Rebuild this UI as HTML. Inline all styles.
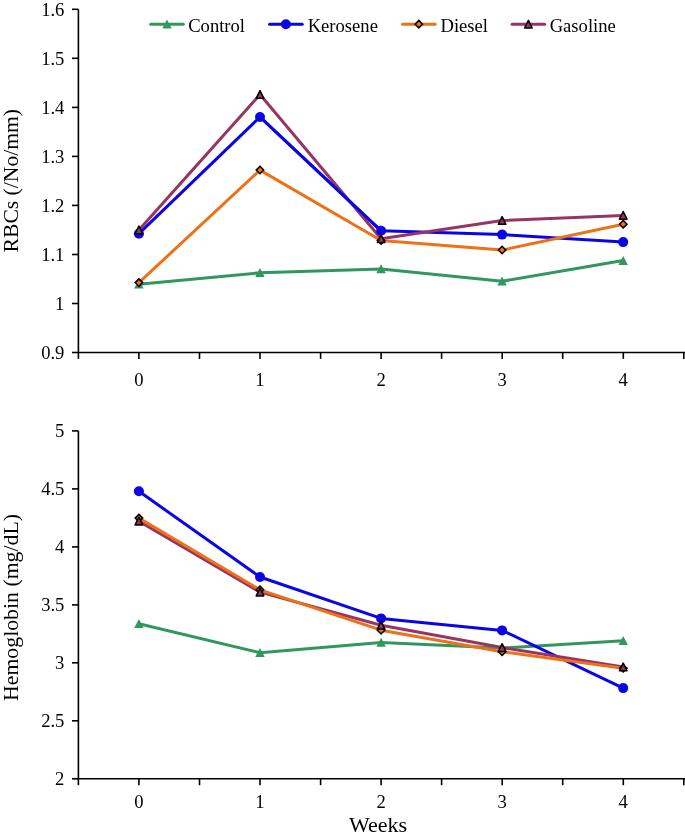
<!DOCTYPE html>
<html><head><meta charset="utf-8"><title>Chart</title>
<style>
html,body{margin:0;padding:0;background:#fff;}
svg{display:block;will-change:transform;}
text{font-family:"Liberation Serif",serif;font-size:18.6px;fill:#000;}
</style></head>
<body>
<svg width="685" height="837" viewBox="0 0 685 837">
<rect width="685" height="837" fill="#fff"/>
<g id="top">
<path d="M78.4,9.3 V352.5 H685" fill="none" stroke="#000" stroke-width="1.6"/>
<path d="M72.0,9.3 H78.4" stroke="#000" stroke-width="1.6"/>
<text x="64.4" y="15.8" text-anchor="end">1.6</text>
<path d="M72.0,58.3 H78.4" stroke="#000" stroke-width="1.6"/>
<text x="64.4" y="64.8" text-anchor="end">1.5</text>
<path d="M72.0,107.4 H78.4" stroke="#000" stroke-width="1.6"/>
<text x="64.4" y="113.9" text-anchor="end">1.4</text>
<path d="M72.0,156.4 H78.4" stroke="#000" stroke-width="1.6"/>
<text x="64.4" y="162.9" text-anchor="end">1.3</text>
<path d="M72.0,205.4 H78.4" stroke="#000" stroke-width="1.6"/>
<text x="64.4" y="211.9" text-anchor="end">1.2</text>
<path d="M72.0,254.5 H78.4" stroke="#000" stroke-width="1.6"/>
<text x="64.4" y="261.0" text-anchor="end">1.1</text>
<path d="M72.0,303.5 H78.4" stroke="#000" stroke-width="1.6"/>
<text x="64.4" y="310.0" text-anchor="end">1</text>
<path d="M72.0,352.5 H78.4" stroke="#000" stroke-width="1.6"/>
<text x="64.4" y="359.0" text-anchor="end">0.9</text>
<path d="M78.4,352.5 V358.9" stroke="#000" stroke-width="1.6"/>
<path d="M138.9,352.5 V358.9" stroke="#000" stroke-width="1.6"/>
<path d="M199.5,352.5 V358.9" stroke="#000" stroke-width="1.6"/>
<path d="M260.0,352.5 V358.9" stroke="#000" stroke-width="1.6"/>
<path d="M320.6,352.5 V358.9" stroke="#000" stroke-width="1.6"/>
<path d="M381.1,352.5 V358.9" stroke="#000" stroke-width="1.6"/>
<path d="M441.6,352.5 V358.9" stroke="#000" stroke-width="1.6"/>
<path d="M502.2,352.5 V358.9" stroke="#000" stroke-width="1.6"/>
<path d="M562.7,352.5 V358.9" stroke="#000" stroke-width="1.6"/>
<path d="M623.3,352.5 V358.9" stroke="#000" stroke-width="1.6"/>
<path d="M683.8,352.5 V358.9" stroke="#000" stroke-width="1.6"/>
<text x="138.9" y="386.3" text-anchor="middle">0</text>
<text x="260.0" y="386.3" text-anchor="middle">1</text>
<text x="381.1" y="386.3" text-anchor="middle">2</text>
<text x="502.1" y="386.3" text-anchor="middle">3</text>
<text x="623.2" y="386.3" text-anchor="middle">4</text>
<polyline points="138.9,284.3 260.0,272.8 381.1,269.0 502.1,281.2 623.2,260.6" fill="none" stroke="#30985f" stroke-width="3" stroke-linejoin="round" stroke-linecap="round"/>
<polyline points="138.9,233.7 260.0,117.0 381.1,230.8 502.1,234.6 623.2,242.1" fill="none" stroke="#0b05e6" stroke-width="3" stroke-linejoin="round" stroke-linecap="round"/>
<polyline points="138.9,229.9 260.0,94.5 381.1,238.8 502.1,220.5 623.2,215.4" fill="none" stroke="#973562" stroke-width="3" stroke-linejoin="round" stroke-linecap="round"/>
<polyline points="138.9,282.6 260.0,170.1 381.1,240.5 502.1,250.1 623.2,224.2" fill="none" stroke="#ee7118" stroke-width="3" stroke-linejoin="round" stroke-linecap="round"/>
<path d="M260.0,117.0 L381.1,230.8" fill="none" stroke="#0b05e6" stroke-width="3" stroke-linecap="round"/>
<path d="M138.9,279.6 L143.6,288.6 L134.2,288.6 Z" fill="#30985f"/>
<path d="M260.0,268.1 L264.7,277.1 L255.3,277.1 Z" fill="#30985f"/>
<path d="M381.1,264.3 L385.8,273.3 L376.4,273.3 Z" fill="#30985f"/>
<path d="M502.1,276.5 L506.8,285.5 L497.4,285.5 Z" fill="#30985f"/>
<path d="M623.2,255.9 L627.9,264.9 L618.5,264.9 Z" fill="#30985f"/>
<circle cx="138.9" cy="233.7" r="5" fill="#0b05e6"/>
<circle cx="260.0" cy="117.0" r="5" fill="#0b05e6"/>
<circle cx="381.1" cy="230.8" r="5" fill="#0b05e6"/>
<circle cx="502.1" cy="234.6" r="5" fill="#0b05e6"/>
<circle cx="623.2" cy="242.1" r="5" fill="#0b05e6"/>
<path d="M138.9,278.9 L142.7,282.6 L138.9,286.4 L135.2,282.6 Z" fill="#ee7118" stroke="#000" stroke-width="1.5"/>
<path d="M260.0,166.3 L263.7,170.1 L260.0,173.8 L256.2,170.1 Z" fill="#ee7118" stroke="#000" stroke-width="1.5"/>
<path d="M381.1,236.8 L384.8,240.5 L381.1,244.2 L377.3,240.5 Z" fill="#ee7118" stroke="#000" stroke-width="1.5"/>
<path d="M502.1,246.3 L505.9,250.1 L502.1,253.8 L498.4,250.1 Z" fill="#ee7118" stroke="#000" stroke-width="1.5"/>
<path d="M623.2,220.4 L627.0,224.2 L623.2,227.9 L619.5,224.2 Z" fill="#ee7118" stroke="#000" stroke-width="1.5"/>
<path d="M138.9,226.0 L142.7,233.7 L135.1,233.7 Z" fill="#973562" stroke="#000" stroke-width="1.5" stroke-linejoin="round"/>
<path d="M260.0,90.6 L263.8,98.3 L256.2,98.3 Z" fill="#973562" stroke="#000" stroke-width="1.5" stroke-linejoin="round"/>
<path d="M381.1,234.9 L384.9,242.6 L377.3,242.6 Z" fill="#973562" stroke="#000" stroke-width="1.5" stroke-linejoin="round"/>
<path d="M502.1,216.6 L505.9,224.3 L498.3,224.3 Z" fill="#973562" stroke="#000" stroke-width="1.5" stroke-linejoin="round"/>
<path d="M623.2,211.5 L627.0,219.2 L619.4,219.2 Z" fill="#973562" stroke="#000" stroke-width="1.5" stroke-linejoin="round"/>
</g>
<g id="legend">
<path d="M150.7,24.2 H183.3" stroke="#30985f" stroke-width="3" stroke-linecap="round"/>
<path d="M167.0,19.5 L171.7,28.5 L162.3,28.5 Z" fill="#30985f"/>
<text x="188.2" y="31.7">Control</text>
<path d="M269.6,24.2 H302.2" stroke="#0b05e6" stroke-width="3" stroke-linecap="round"/>
<circle cx="285.9" cy="24.2" r="5" fill="#0b05e6"/>
<text x="307.7" y="31.7">Kerosene</text>
<path d="M402.5,24.2 H435.1" stroke="#ee7118" stroke-width="3" stroke-linecap="round"/>
<path d="M418.8,20.4 L422.6,24.2 L418.8,27.9 L415.1,24.2 Z" fill="#ee7118" stroke="#000" stroke-width="1.5"/>
<text x="440.5" y="31.7">Diesel</text>
<path d="M512.1,24.2 H544.7" stroke="#973562" stroke-width="3" stroke-linecap="round"/>
<path d="M528.4,20.3 L532.2,28.0 L524.6,28.0 Z" fill="#973562" stroke="#000" stroke-width="1.5" stroke-linejoin="round"/>
<text x="549.7" y="31.7">Gasoline</text>
</g>
<g id="bottom">
<path d="M78.4,430.9 V778.8 H685" fill="none" stroke="#000" stroke-width="1.6"/>
<path d="M72.0,430.9 H78.4" stroke="#000" stroke-width="1.6"/>
<text x="64.4" y="437.4" text-anchor="end">5</text>
<path d="M72.0,488.9 H78.4" stroke="#000" stroke-width="1.6"/>
<text x="64.4" y="495.4" text-anchor="end">4.5</text>
<path d="M72.0,546.9 H78.4" stroke="#000" stroke-width="1.6"/>
<text x="64.4" y="553.4" text-anchor="end">4</text>
<path d="M72.0,604.9 H78.4" stroke="#000" stroke-width="1.6"/>
<text x="64.4" y="611.4" text-anchor="end">3.5</text>
<path d="M72.0,662.8 H78.4" stroke="#000" stroke-width="1.6"/>
<text x="64.4" y="669.3" text-anchor="end">3</text>
<path d="M72.0,720.8 H78.4" stroke="#000" stroke-width="1.6"/>
<text x="64.4" y="727.3" text-anchor="end">2.5</text>
<path d="M72.0,778.8 H78.4" stroke="#000" stroke-width="1.6"/>
<text x="64.4" y="785.3" text-anchor="end">2</text>
<path d="M78.4,778.8 V785.2" stroke="#000" stroke-width="1.6"/>
<path d="M138.9,778.8 V785.2" stroke="#000" stroke-width="1.6"/>
<path d="M199.5,778.8 V785.2" stroke="#000" stroke-width="1.6"/>
<path d="M260.0,778.8 V785.2" stroke="#000" stroke-width="1.6"/>
<path d="M320.6,778.8 V785.2" stroke="#000" stroke-width="1.6"/>
<path d="M381.1,778.8 V785.2" stroke="#000" stroke-width="1.6"/>
<path d="M441.6,778.8 V785.2" stroke="#000" stroke-width="1.6"/>
<path d="M502.2,778.8 V785.2" stroke="#000" stroke-width="1.6"/>
<path d="M562.7,778.8 V785.2" stroke="#000" stroke-width="1.6"/>
<path d="M623.3,778.8 V785.2" stroke="#000" stroke-width="1.6"/>
<path d="M683.8,778.8 V785.2" stroke="#000" stroke-width="1.6"/>
<text x="138.9" y="807.8" text-anchor="middle">0</text>
<text x="260.0" y="807.8" text-anchor="middle">1</text>
<text x="381.1" y="807.8" text-anchor="middle">2</text>
<text x="502.1" y="807.8" text-anchor="middle">3</text>
<text x="623.2" y="807.8" text-anchor="middle">4</text>
<polyline points="138.9,623.7 260.0,652.7 381.1,642.5 502.1,648.0 623.2,640.8" fill="none" stroke="#30985f" stroke-width="3" stroke-linejoin="round" stroke-linecap="round"/>
<polyline points="138.9,491.3 260.0,577.0 381.1,618.4 502.1,630.4 623.2,688.1" fill="none" stroke="#0b05e6" stroke-width="3" stroke-linejoin="round" stroke-linecap="round"/>
<polyline points="138.9,521.1 260.0,592.1 381.1,625.3 502.1,647.6 623.2,667.0" fill="none" stroke="#973562" stroke-width="3" stroke-linejoin="round" stroke-linecap="round"/>
<polyline points="138.9,518.1 260.0,589.8 381.1,630.2 502.1,651.7 623.2,668.2" fill="none" stroke="#ee7118" stroke-width="3" stroke-linejoin="round" stroke-linecap="round"/>
<path d="M138.9,619.0 L143.6,628.0 L134.2,628.0 Z" fill="#30985f"/>
<path d="M260.0,648.0 L264.7,657.0 L255.3,657.0 Z" fill="#30985f"/>
<path d="M381.1,637.8 L385.8,646.8 L376.4,646.8 Z" fill="#30985f"/>
<path d="M502.1,643.3 L506.8,652.3 L497.4,652.3 Z" fill="#30985f"/>
<path d="M623.2,636.1 L627.9,645.1 L618.5,645.1 Z" fill="#30985f"/>
<circle cx="138.9" cy="491.3" r="5" fill="#0b05e6"/>
<circle cx="260.0" cy="577.0" r="5" fill="#0b05e6"/>
<circle cx="381.1" cy="618.4" r="5" fill="#0b05e6"/>
<circle cx="502.1" cy="630.4" r="5" fill="#0b05e6"/>
<circle cx="623.2" cy="688.1" r="5" fill="#0b05e6"/>
<path d="M138.9,514.4 L142.7,518.1 L138.9,521.9 L135.2,518.1 Z" fill="#ee7118" stroke="#000" stroke-width="1.5"/>
<path d="M260.0,586.0 L263.7,589.8 L260.0,593.5 L256.2,589.8 Z" fill="#ee7118" stroke="#000" stroke-width="1.5"/>
<path d="M381.1,626.5 L384.8,630.2 L381.1,634.0 L377.3,630.2 Z" fill="#ee7118" stroke="#000" stroke-width="1.5"/>
<path d="M502.1,648.0 L505.9,651.7 L502.1,655.5 L498.4,651.7 Z" fill="#ee7118" stroke="#000" stroke-width="1.5"/>
<path d="M623.2,664.5 L627.0,668.2 L623.2,672.0 L619.5,668.2 Z" fill="#ee7118" stroke="#000" stroke-width="1.5"/>
<path d="M138.9,517.2 L142.7,524.9 L135.1,524.9 Z" fill="#973562" stroke="#000" stroke-width="1.5" stroke-linejoin="round"/>
<path d="M260.0,588.2 L263.8,595.9 L256.2,595.9 Z" fill="#973562" stroke="#000" stroke-width="1.5" stroke-linejoin="round"/>
<path d="M381.1,621.4 L384.9,629.1 L377.3,629.1 Z" fill="#973562" stroke="#000" stroke-width="1.5" stroke-linejoin="round"/>
<path d="M502.1,643.7 L505.9,651.4 L498.3,651.4 Z" fill="#973562" stroke="#000" stroke-width="1.5" stroke-linejoin="round"/>
<path d="M623.2,663.1 L627.0,670.8 L619.4,670.8 Z" fill="#973562" stroke="#000" stroke-width="1.5" stroke-linejoin="round"/>
</g>
<text transform="translate(18,180.7) rotate(-90)" text-anchor="middle" style="font-size:21.6px">RBCs (/No/mm)</text>
<text transform="translate(18.2,607.5) rotate(-90)" text-anchor="middle" style="font-size:21.8px">Hemoglobin (mg/dL)</text>
<text x="378" y="831.6" text-anchor="middle" style="font-size:22px">Weeks</text>
</svg>
</body></html>
